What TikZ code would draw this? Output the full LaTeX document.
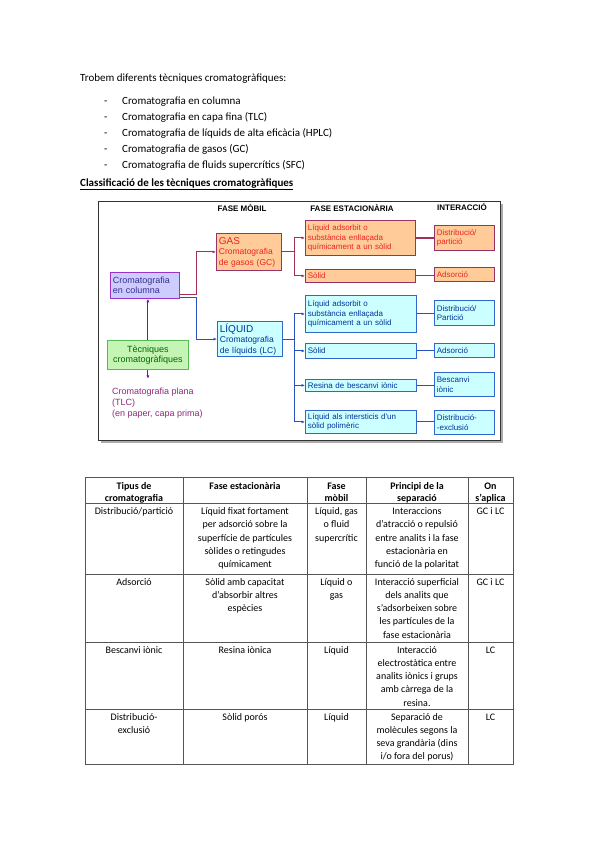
\documentclass[tikz,border=0pt]{standalone}
\usepackage{fontspec}
\setmainfont{Carlito}
\newfontfamily\arialf{Liberation Sans}
\usetikzlibrary{arrows.meta}
\definecolor{gasfill}{HTML}{FFCC99}
\definecolor{gasdraw}{HTML}{993366}
\definecolor{gastext}{HTML}{E8251F}
\definecolor{colfill}{HTML}{CCCCFF}
\definecolor{coldraw}{HTML}{9933CC}
\definecolor{coltext}{HTML}{3B2E8F}
\definecolor{tecfill}{HTML}{C4F5B4}
\definecolor{tecdraw}{HTML}{55BB55}
\definecolor{tectext}{HTML}{006600}
\definecolor{lcfill}{HTML}{CCFFFF}
\definecolor{lcdraw}{HTML}{3366CC}
\definecolor{lctext}{HTML}{003399}
\definecolor{redline}{HTML}{A0305A}
\definecolor{blueline}{HTML}{2A52BE}
\definecolor{purline}{HTML}{8800CC}
\definecolor{planatext}{HTML}{8E2A7A}
\definecolor{tablecol}{HTML}{555555}
\begin{document}
\begin{tikzpicture}[x=1pt,y=-1pt,
  dfont/.style={font=\arialf\fontsize{8}{9.6}\selectfont},
  box/.style={draw, line width=0.8pt, anchor=north west, inner xsep=2.5pt, inner ysep=2pt, align=left, dfont},
  gasbox/.style={fill=gasfill, draw=gasdraw, text=gastext},
  lcbox/.style={fill=lcfill, draw=lcdraw, text=lctext},
  colbox/.style={fill=colfill, draw=coldraw, text=coltext},
  tecbox/.style={fill=tecfill, draw=tecdraw, text=tectext},
  tip/.style={-{Latex[length=3.5pt,width=3pt]}},
  redc/.style={draw=redline, line width=0.9pt},
  bluec/.style={draw=blueline, line width=0.9pt},
  purc/.style={draw=purline, line width=0.9pt},
  hdr/.style={font=\arialf\bfseries\fontsize{8}{9}\selectfont, inner sep=0pt},
  txt/.style={anchor=base west, inner sep=0pt, font=\fontsize{11}{13}\selectfont},
  cell/.style={anchor=north, inner sep=0pt, align=center, font=\fontsize{10}{13.3}\selectfont},
  hcell/.style={anchor=north, inner sep=0pt, align=center, font=\bfseries\fontsize{10}{12}\selectfont},
  tline/.style={draw=tablecol, line width=0.8pt}
]
\useasboundingbox[fill=white] (0,0) rectangle (599,848);

% ---------- intro text ----------
\node[txt] (intro) at (80,82) {Trobem diferents tècniques cromatogràfiques:};
\node[txt] (d1) at (104,105) {-};
\node[txt] (b1) at (122,105) {Cromatografia en columna};
\node[txt] (d2) at (104,121) {-};
\node[txt] (b2) at (122,121) {Cromatografia en capa fina (TLC)};
\node[txt] (d3) at (104,136) {-};
\node[txt] (b3) at (122,136) {Cromatografia de líquids de alta eficàcia (HPLC)};
\node[txt] (d4) at (104,152) {-};
\node[txt] (b4) at (122,152) {Cromatografia de gasos (GC)};
\node[txt] (d5) at (104,168) {-};
\node[txt] (b5) at (122,168) {Cromatografia de fluids supercrítics (SFC)};
\node[txt, font=\bfseries\fontsize{11}{13}\selectfont] (title) at (80,186) {\underline{Classificació de les tècniques cromatogràfiques}};

% ---------- diagram frame ----------
\fill[gray!65] (101,204) rectangle (503,443);
\draw[fill=white, draw=gray!40!black, line width=0.7pt] (98,201) rectangle (500,440);

\node[hdr] (hm) at (242,208) {FASE MÒBIL};
\node[hdr] (he) at (352,208) {FASE ESTACIONÀRIA};
\node[hdr] (hi) at (462,207) {INTERACCIÓ};

% ---------- boxes ----------
\node[box, colbox, minimum height=26pt, text width=64pt, font=\arialf\fontsize{9}{10.5}\selectfont] (col) at (110,272) {Cromatografia\\en columna};
\node[box, tecbox, minimum height=29pt, text width=76pt, align=center, font=\arialf\fontsize{9}{10.5}\selectfont] (tec) at (107,340) {Tècniques\\cromatogràfiques};
\node[anchor=north west, inner sep=0pt, align=left, text=planatext, font=\arialf\fontsize{9}{11}\selectfont] (plana) at (112,386.8) {\strut Cromatografia plana\\(TLC)\\(en paper, capa prima)};

\node[box, gasbox, minimum height=37pt, text width=60pt, font=\arialf\fontsize{8.5}{10.5}\selectfont] (gas) at (216,233) {{\fontsize{10}{11}\selectfont GAS}\\Cromatografia\\de gasos (GC)};
\node[box, lcbox, minimum height=35pt, text width=60pt, font=\arialf\fontsize{8.5}{10.5}\selectfont] (lc) at (217,321) {{\fontsize{10}{11}\selectfont LÍQUID}\\Cromatografia\\de líquids (LC)};

\node[box, gasbox, minimum height=35pt, text width=105pt] (gl1) at (305,220) {Líquid adsorbit o\\substància enllaçada\\químicament a un sòlid};
\node[box, gasbox, minimum height=13pt, inner ysep=1.2pt, text width=105pt] (gs1) at (305,269) {Sòlid};
\node[box, gasbox, minimum height=25pt, text width=55pt] (gi1) at (434,225) {Distribució/\\partició};
\node[box, gasbox, minimum height=14pt, inner ysep=1.2pt, text width=55pt] (gi2) at (434,267) {Adsorció};

\node[box, lcbox, minimum height=37pt, text width=106pt] (ll1) at (305,295) {Líquid adsorbit o\\substància enllaçada\\químicament a un sòlid};
\node[box, lcbox, minimum height=15pt, inner ysep=1.2pt, text width=106pt] (ls1) at (305,343) {Sòlid};
\node[box, lcbox, minimum height=12pt, inner ysep=1.2pt, text width=106pt] (lr1) at (305,379) {Resina de bescanvi iònic};
\node[box, lcbox, minimum height=23pt, text width=106pt] (lx1) at (305,410) {Líquid als intersticis d'un\\sòlid polimèric};
\node[box, lcbox, minimum height=25pt, text width=55pt] (li1) at (434,300) {Distribució/\\Partició};
\node[box, lcbox, minimum height=14pt, inner ysep=1.2pt, text width=55pt] (li2) at (434,343) {Adsorció};
\node[box, lcbox, minimum height=24pt, text width=55pt] (li3) at (434,372) {Bescanvi\\iònic};
\node[box, lcbox, minimum height=24pt, text width=55pt] (li4) at (434,410) {Distribució-\\-exclusió};

% ---------- connectors ----------
\draw[redc, tip] ([yshift=-9pt]col.east) -- ++(17,0) |- (gas.west);
\draw[bluec, tip] ([yshift=-12pt]col.east) -- ++(17,0) |- (lc.west);
\draw[purc, tip] (tec.north) -- (tec.north |- col.south);
\draw[purc, tip] (tec.south) -- ([yshift=8pt]tec.south |- plana.north);

\draw[redc] (gas.east) -- ++(13,0) coordinate (gj);
\draw[redc, tip] (gj) |- (gl1.west);
\draw[redc, tip] (gj) |- (gs1.west);
\draw[redc, line width=2pt] (gl1.east) -- (gl1.east -| gi1.west);
\draw[redc] (gs1.east) -- (gs1.east -| gi2.west);

\draw[bluec] (lc.east) -- ++(12,0) coordinate (lj);
\draw[bluec, tip] (lj) |- (ll1.west);
\draw[bluec, tip] (lj) |- (ls1.west);
\draw[bluec, tip] (lj) |- (lr1.west);
\draw[bluec, tip] (lj) |- (lx1.west);
\draw[bluec] (ll1.east) -- (ll1.east -| li1.west);
\draw[bluec] (ls1.east) -- (ls1.east -| li2.west);
\draw[bluec] (lr1.east) -- (lr1.east -| li3.west);
\draw[bluec] (lx1.east) -- (lx1.east -| li4.west);

% ---------- table ----------
\draw[tline] (85,477) rectangle (513,764);
\foreach \xx in {183,307,366,468} \draw[tline] (\xx,477) -- (\xx,764);
\foreach \yy in {503,574,642,709} \draw[tline] (85,\yy) -- (513,\yy);

\node[hcell] (h1) at (134,480.6) {\strut Tipus de\\cromatografia};
\node[hcell] (h2) at (245,480.6) {\strut Fase estacionària};
\node[hcell] (h3) at (336.5,480.6) {\strut Fase\\mòbil};
\node[hcell] (h4) at (417,480.6) {\strut Principi de la\\separació};
\node[hcell] (h5) at (490.5,480.6) {\strut On\\s’aplica};

\node[cell] (r1c1) at (134,505) {\strut Distribució/partició};
\node[cell] (r1c2) at (245,505) {\strut Líquid fixat fortament\\per adsorció sobre la\\superfície de partícules\\sòlides o retingudes\\químicament};
\node[cell] (r1c3) at (336.5,505) {\strut Líquid, gas\\o fluid\\supercrític};
\node[cell] (r1c4) at (417,505) {\strut Interaccions\\d’atracció o repulsió\\entre analits i la fase\\estacionària en\\funció de la polaritat};
\node[cell] (r1c5) at (490.5,505) {\strut GC i LC};

\node[cell] (r2c1) at (134,575.5) {\strut Adsorció};
\node[cell] (r2c2) at (245,575.5) {\strut Sòlid amb capacitat\\d’absorbir altres\\espècies};
\node[cell] (r2c3) at (336.5,575.5) {\strut Líquid o\\gas};
\node[cell] (r2c4) at (417,575.5) {\strut Interacció superficial\\dels analits que\\s’adsorbeixen sobre\\les partícules de la\\fase estacionària};
\node[cell] (r2c5) at (490.5,575.5) {\strut GC i LC};

\node[cell] (r3c1) at (134,643.5) {\strut Bescanvi iònic};
\node[cell] (r3c2) at (245,643.5) {\strut Resina iònica};
\node[cell] (r3c3) at (336.5,643.5) {\strut Líquid};
\node[cell] (r3c4) at (417,643.5) {\strut Interacció\\electrostàtica entre\\analits iònics i grups\\amb càrrega de la\\resina.};
\node[cell] (r3c5) at (490.5,643.5) {\strut LC};

\node[cell] (r4c1) at (134,710.5) {\strut Distribució-\\exclusió};
\node[cell] (r4c2) at (245,710.5) {\strut Sòlid porós};
\node[cell] (r4c3) at (336.5,710.5) {\strut Líquid};
\node[cell] (r4c4) at (417,710.5) {\strut Separació de\\molècules segons la\\seva grandària (dins\\i/o fora del porus)};
\node[cell] (r4c5) at (490.5,710.5) {\strut LC};
\end{tikzpicture}
\end{document}
